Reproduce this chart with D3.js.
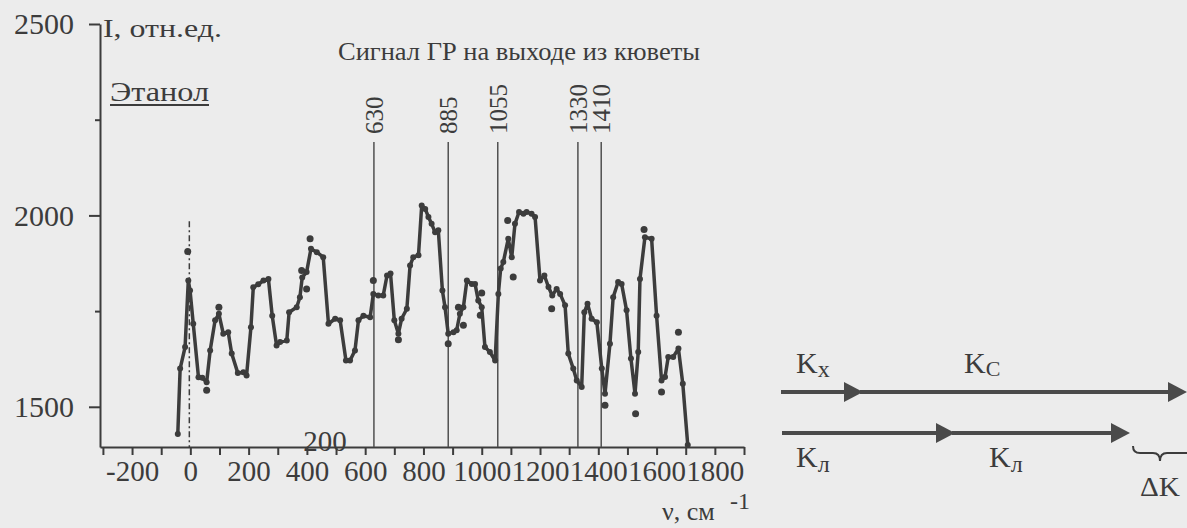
<!DOCTYPE html>
<html><head><meta charset="utf-8">
<script src="https://cdn.jsdelivr.net/npm/d3@7"></script>
<style>
body{margin:0;background:#ececec;}
svg{display:block;font-family:"Liberation Serif","Times New Roman",serif;}
</style></head><body>
<svg width="1187" height="528"></svg>
<script>
// spectrum samples
const nu = [-43,-35,-18,-7,-1,10,28,41,56,68,85,98,113,130,142,163,182,193,208,216,233,251,268,281,296,308,331,339,365,376,384,399,414,434,456,474,497,514,534,548,565,577,594,617,628,645,662,675,687,700,714,725,743,754,765,783,794,806,817,828,840,851,865,874,885,903,914,925,937,949,966,977,988,1000,1011,1028,1046,1057,1065,1074,1091,1103,1114,1128,1143,1154,1171,1183,1200,1215,1229,1242,1257,1269,1286,1297,1314,1326,1343,1352,1363,1377,1395,1412,1423,1440,1451,1468,1480,1497,1512,1526,1537,1543,1560,1583,1600,1617,1629,1640,1657,1675,1690,1707];
const intensity = [1429,1600,1656,1830,1804,1717,1577,1576,1564,1647,1726,1743,1691,1695,1639,1588,1590,1582,1708,1812,1820,1830,1834,1738,1660,1669,1673,1747,1760,1786,1838,1852,1913,1904,1891,1717,1730,1726,1621,1621,1647,1726,1738,1734,1795,1791,1791,1843,1848,1726,1691,1730,1756,1869,1891,1896,2026,2017,1996,1978,1956,1961,1804,1760,1691,1695,1700,1743,1760,1830,1821,1821,1778,1760,1656,1643,1621,1795,1861,1878,1939,1891,1978,2009,2004,2009,2004,1996,1830,1843,1813,1791,1808,1795,1765,1639,1600,1569,1552,1747,1769,1730,1721,1600,1534,1665,1786,1826,1821,1752,1626,1534,1643,1834,1943,1939,1738,1569,1578,1630,1630,1652,1560,1400];
// scattered raw points off the curve
const outNu = [-9,56,98,382,399,411,628,714,885,920,937,995,1000,1089,1108,1240,1423,1528,1557,1617,1675];
const outI = [1906,1543,1760,1856,1808,1939,1830,1675,1665,1760,1713,1739,1797,1987,1839,1756,1504,1482,1963,1539,1695];
const peaks = [630, 885, 1055, 1330, 1410];
const xTicks = d3.range(-300, 1901, 100);
const xLabels = [-200, 0, 200, 400, 600, 800, 1000, 1200, 1400, 1600, 1800];
const yTicks = [1500, 1750, 2000, 2250, 2500];
const yLabels = [1500, 2000, 2500];

const ink = '#3c3c3c';
const svg = d3.select('svg');
const x = d3.scaleLinear().domain([-310, 1900]).range([100, 744]);
const y = d3.scaleLinear().domain([1395, 2500]).range([447, 24]);

// x axis
const gx = svg.append('g').attr('transform', 'translate(0,447)')
  .call(d3.axisBottom(x).tickValues(xTicks).tickSize(8).tickSizeOuter(0).tickPadding(5)
    .tickFormat(d => xLabels.includes(d) ? d : ''));
gx.selectAll('text').attr('font-size', 29).attr('fill', ink).attr('font-family', 'Liberation Serif');
gx.selectAll('line,path').attr('stroke', ink).attr('stroke-width', 2);

// y axis
const gy = svg.append('g').attr('transform', 'translate(100,0)')
  .call(d3.axisLeft(y).tickValues(yTicks).tickSize(11).tickSizeOuter(0)
    .tickFormat(d => yLabels.includes(d) ? d : ''));
gy.selectAll('.tick line').attr('x2', d => yLabels.includes(d) ? -11 : -5);
gy.selectAll('text').attr('x', -26).attr('font-size', 30).attr('fill', ink).attr('font-family', 'Liberation Serif');
gy.selectAll('line,path').attr('stroke', ink).attr('stroke-width', 2);

// dash-dot line at zero
svg.append('line').attr('x1', x(0) - 1).attr('x2', x(0) - 1)
  .attr('y1', y(1985)).attr('y2', y(1395))
  .attr('stroke', ink).attr('stroke-width', 1.5).attr('stroke-dasharray', '6,3,2,3');

// peak markers
svg.selectAll('.peak').data(peaks).enter().append('line')
  .attr('x1', d => x(d)).attr('x2', d => x(d))
  .attr('y1', 142).attr('y2', y(1395))
  .attr('stroke', '#505050').attr('stroke-width', 1.5);
svg.selectAll('.plabel').data(peaks).enter().append('text')
  .attr('transform', d => `translate(${x(d) + 9},134) rotate(-90)`)
  .attr('font-size', 25).attr('fill', ink).text(d => d);

// curve
const line = d3.line().x(d => x(d[0])).y(d => y(d[1]));
const pts = nu.map((v, i) => [v, intensity[i]]);
svg.append('path').datum(pts).attr('d', line)
  .attr('fill', 'none').attr('stroke', ink).attr('stroke-width', 3.5).attr('stroke-linejoin', 'round');
svg.selectAll('.pt').data(pts).enter().append('circle')
  .attr('cx', d => x(d[0])).attr('cy', d => y(d[1])).attr('r', 3).attr('fill', ink);
svg.selectAll('.out').data(outNu).enter().append('circle')
  .attr('cx', d => x(d)).attr('cy', (d, i) => y(outI[i])).attr('r', 3.5).attr('fill', ink);

// texts
svg.append('text').attr('x', 103).attr('y', 37).attr('font-size', 25).attr('fill', ink)
  .attr('textLength', 119).attr('lengthAdjust', 'spacingAndGlyphs').text('I, отн.ед.');
svg.append('text').attr('x', 110).attr('y', 101).attr('font-size', 28).attr('fill', ink)
  .attr('textLength', 99).attr('lengthAdjust', 'spacingAndGlyphs').text('Этанол');
svg.append('line').attr('x1', 110).attr('x2', 209).attr('y1', 105).attr('y2', 105)
  .attr('stroke', ink).attr('stroke-width', 2);
svg.append('text').attr('x', 338).attr('y', 60).attr('font-size', 26).attr('fill', ink)
  .attr('textLength', 362).attr('lengthAdjust', 'spacingAndGlyphs').text('Сигнал ГР на выходе из кюветы');
svg.append('text').attr('x', 325).attr('y', 451).attr('text-anchor', 'middle')
  .attr('font-size', 29).attr('fill', ink).text('200');
svg.append('text').attr('x', 662).attr('y', 520).attr('font-size', 26).attr('fill', ink).text('ν, см');
svg.append('text').attr('x', 730).attr('y', 509).attr('font-size', 24).attr('fill', ink).text('-1');

// right-hand vector diagram
const dg = svg.append('g').attr('fill', '#4a4a4a').attr('stroke', '#4a4a4a');
function arrow(x1, x2, yy) {
  dg.append('line').attr('x1', x1).attr('x2', x2 - 10).attr('y1', yy).attr('y2', yy).attr('stroke-width', 4);
  dg.append('path').attr('stroke', 'none').attr('d', `M${x2},${yy} L${x2 - 19},${yy - 10} L${x2 - 19},${yy + 10} Z`);
}
arrow(781, 863, 392); arrow(860, 1187, 392);
arrow(782, 955, 433); arrow(952, 1130, 433);
function kLabel(xx, yy, sub, subSize, dy) {
  const t = svg.append('text').attr('x', xx).attr('y', yy).attr('font-size', 30).attr('fill', ink).text('K');
  t.append('tspan').attr('font-size', subSize).attr('dy', dy).text(sub);
}
kLabel(796, 373, 'x', 24, 4);
kLabel(964, 373, 'C', 22, 3);
kLabel(796, 467, 'л', 24, 5);
kLabel(989, 467, 'л', 24, 5);
svg.append('path').attr('d', 'M1133,446 Q1133,453 1140,453 L1153,453 Q1160,453 1160,461 Q1160,453 1167,453 L1187,453')
  .attr('fill', 'none').attr('stroke', ink).attr('stroke-width', 2);
svg.append('text').attr('x', 1140).attr('y', 496).attr('font-size', 27).attr('fill', ink)
  .attr('textLength', 40).attr('lengthAdjust', 'spacingAndGlyphs').text('ΔK');
</script>
</body></html>
